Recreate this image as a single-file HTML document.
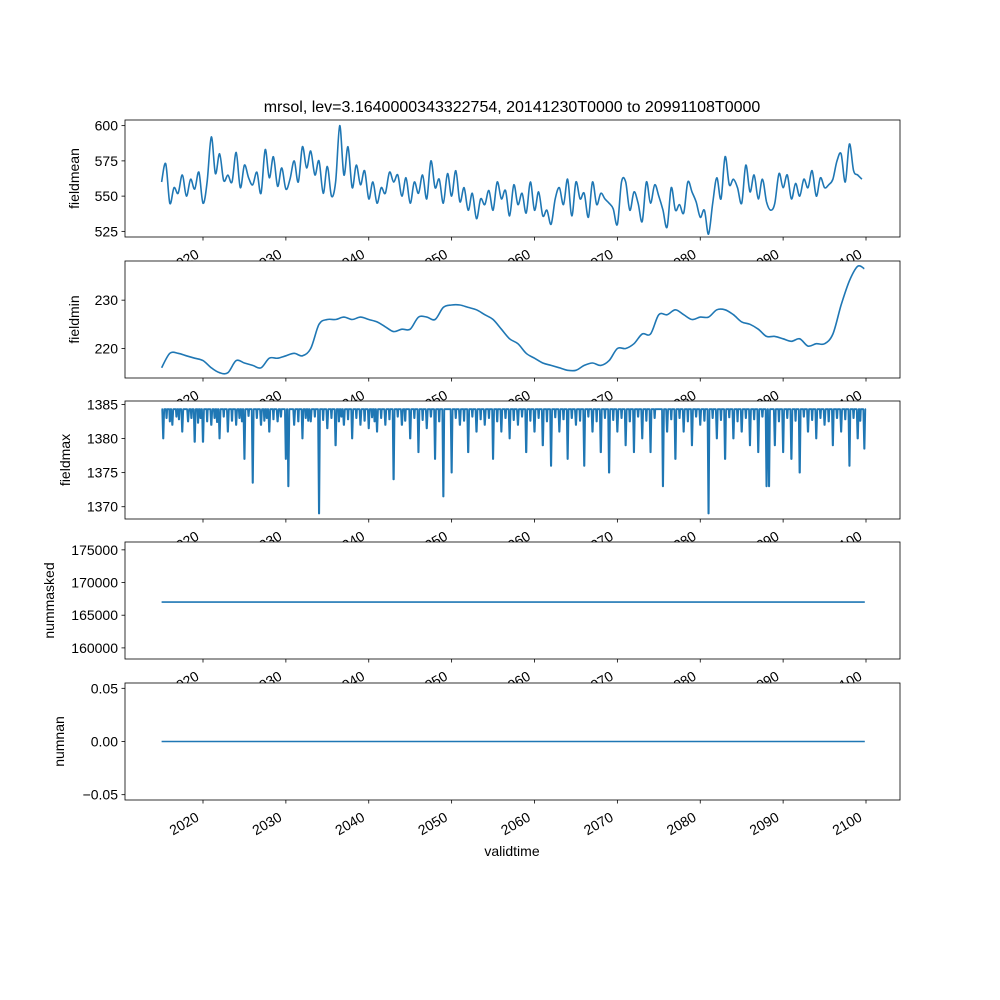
<!DOCTYPE html>
<html><head><meta charset="utf-8"><style>body{margin:0;background:#fff}svg{display:block;font-family:"Liberation Sans","DejaVu Sans",sans-serif}</style></head>
<body>
<svg id="fig" width="1000" height="1000" viewBox="0 0 1000 1000" xmlns="http://www.w3.org/2000/svg">
<rect width="1000" height="1000" fill="#fff"/>
<text x="512" y="112" font-size="16" text-anchor="middle">mrsol, lev=3.1640000343322754, 20141230T0000 to 20991108T0000</text>
<g id="root"></g>
<text x="512" y="856" font-size="14" text-anchor="middle">validtime</text>
</svg>
<script>
const xTicks=[2020,2030,2040,2050,2060,2070,2080,2090,2100];
const meanVals=[560,573,545,556,552,565,550,562,555,567,545,560,592,566,580,561,565,560,581,556,572,563,558,567,552,583,563,578,557,570,555,562,575,560,585,570,582,565,575,552,571,550,560,600,565,585,556,572,558,568,548,560,545,556,552,567,560,565,550,563,545,560,552,565,548,575,556,562,545,566,550,568,546,556,540,552,534,548,544,554,540,560,548,554,536,558,544,552,538,560,540,553,536,540,530,548,556,544,562,536,560,548,552,535,560,544,552,548,545,541,530,560,560,540,553,545,532,560,545,558,550,540,528,556,540,544,538,560,553,546,535,540,523,545,563,548,578,558,562,556,545,572,553,565,548,562,546,540,545,566,556,565,548,559,550,562,556,568,550,563,556,558,562,575,580,560,587,568,565,562];
const minYears=[2015,2016,2017,2018,2019,2020,2021,2022,2023,2024,2025,2026,2027,2028,2029,2030,2031,2032,2033,2034,2035,2036,2037,2038,2039,2040,2041,2042,2043,2044,2045,2046,2047,2048,2049,2050,2051,2052,2053,2054,2055,2056,2057,2058,2059,2060,2061,2062,2063,2064,2065,2066,2067,2068,2069,2070,2071,2072,2073,2074,2075,2076,2077,2078,2079,2080,2081,2082,2083,2084,2085,2086,2087,2088,2089,2090,2091,2092,2093,2094,2095,2096,2097,2098,2099,2099.8];
const minVals=[216,219,219,218.5,218,217.5,216,215,215,217.5,217,216.5,216,218,218,218.5,219,218.5,220,225,226,226,226.5,226,226.5,226,225.5,224.5,223.5,224,224,226.5,226.5,226,228.5,229,229,228.5,228,227,226,224,222,221,219,218,217,216.5,216,215.5,215.5,216.5,217,216.5,217.5,220,220,221,223,223,227,227,228,227,226,226.5,226.5,228,228,227,225.5,225,224,222.5,222.5,222,221.5,222,220.5,221,221,223,229,234,237,236.5];
const spikeYears=[2015.2,2016.3,2017.5,2018.2,2019,2020,2021,2022,2023,2024,2025,2026,2027,2028,2029,2030,2030.3,2031,2032,2033,2034,2035,2036,2037,2038,2039,2040,2041,2042,2043,2044,2045,2046,2047,2048,2049,2050,2051,2052,2053,2054,2055,2056,2057,2058,2059,2060,2061,2062,2063,2064,2065,2066,2067,2068,2069,2070,2071,2072,2073,2074,2075.5,2076,2077,2078,2079,2080,2081,2082,2083,2084,2085,2086,2087,2088,2088.3,2089,2090,2091,2092,2093,2094,2095,2096,2097,2098,2099,2099.8];
const spikeVals=[1380,1382,1381,1382.5,1379.5,1379.5,1382,1380,1381,1382,1377,1373.5,1382,1381,1382.5,1377,1373,1382,1380,1382.5,1369,1381.5,1379,1382,1380,1382,1381.5,1381,1382,1374,1382,1380,1378,1381.5,1377,1371.5,1375,1382,1378,1381,1382,1377,1381,1380,1382,1378,1381,1379,1376,1381,1377,1382,1376,1381,1378,1375,1381,1379,1378,1380,1378,1373,1381,1377,1381,1379,1382,1369,1380,1377,1380,1381,1379,1378,1373,1373,1379,1378,1377,1375,1381,1380,1382,1379,1381,1376,1380,1378.5];
const smallYears=[2015.6,2016.0,2016.8,2017.1,2018.6,2019.4,2019.7,2020.5,2021.4,2021.7,2022.5,2023.5,2024.4,2024.7,2025.5,2026.5,2027.4,2027.7,2028.5,2029.4,2031.5,2032.4,2032.7,2033.5,2034.5,2035.5,2036.4,2036.7,2037.5,2038.5,2039.5,2040.4,2040.7,2041.5,2042.5,2043.5,2044.4,2045.5,2046.5,2047.5,2048.5,2050.5,2051.5,2052.5,2053.5,2054.5,2055.5,2056.5,2057.5,2058.5,2059.5,2060.5,2061.5,2062.5,2063.5,2064.5,2065.5,2066.5,2067.5,2068.5,2069.5,2070.5,2071.5,2072.5,2073.5,2074.5,2076.5,2077.5,2078.5,2079.5,2080.5,2081.5,2082.5,2083.5,2084.5,2085.5,2086.5,2087.5,2089.5,2090.5,2091.5,2092.5,2093.5,2094.5,2095.5,2096.5,2097.5,2098.5,2099.3];
const smallVals=[1383,1382.5,1383.2,1382.8,1383,1382.3,1383,1382.5,1383,1382.4,1383.2,1382.6,1383,1382.5,1383.3,1383,1382.6,1383,1382.8,1383.2,1382.5,1383,1382.6,1383.2,1382.7,1383,1382.5,1383.2,1382.8,1383,1382.6,1383.1,1382.5,1383,1382.8,1383.2,1382.6,1383,1382.7,1383.2,1382.5,1383,1382.6,1383.2,1382.8,1383,1382.5,1383,1382.7,1383.2,1382.6,1383,1382.5,1383.1,1382.8,1383,1382.6,1383.2,1382.5,1383,1382.7,1383,1382.5,1383.2,1382.6,1383,1382.8,1383,1382.5,1383.2,1382.6,1383,1382.7,1383.1,1382.5,1383,1382.8,1383.2,1382.5,1383,1382.6,1383.2,1382.7,1383,1382.5,1383,1382.8,1383,1382.6];
const maskedVal=167000;
const nanVal=0;
const panels=[
 {name:'fieldmean',top:120,bot:237,ymin:521,ymax:604,ticks:[525,550,575,600],labels:['525','550','575','600']},
 {name:'fieldmin',top:261,bot:378,ymin:213.9,ymax:238.1,ticks:[220,230],labels:['220','230']},
 {name:'fieldmax',top:401,bot:519,ymin:1368.2,ymax:1385.5,ticks:[1370,1375,1380,1385],labels:['1370','1375','1380','1385']},
 {name:'nummasked',top:542,bot:659,ymin:158300,ymax:176200,ticks:[160000,165000,170000,175000],labels:['160000','165000','170000','175000']},
 {name:'numnan',top:683,bot:800,ymin:-0.055,ymax:0.055,ticks:[-0.05,0,0.05],labels:['−0.05','0.00','0.05']}];
const NS='http://www.w3.org/2000/svg';
const root=document.getElementById('root');
const L=125,R=900;
function xs(y){return 203+(y-2020)*(866-203)/80;}
function mk(t,a,p){const e=document.createElementNS(NS,t);for(const k in a)e.setAttribute(k,a[k]);(p||root).appendChild(e);return e;}
function series(i){
 if(i===0)return meanVals.map((v,j)=>[2015+j*0.5,v]);
 if(i===1)return minYears.map((y,j)=>[y,minVals[j]]);
 if(i===2){const sp=spikeYears.map((y,j)=>[y,spikeVals[j],0.12]).concat(smallYears.map((y,j)=>[y,smallVals[j],0.08])).sort((a,b)=>a[0]-b[0]);
  const pts=[[2015,1384.3]];sp.forEach(s=>{pts.push([s[0]-s[2],1384.3]);pts.push([s[0]-0.02,s[1]]);pts.push([s[0]+0.02,s[1]]);pts.push([s[0]+s[2],1384.3]);});pts.push([2099.85,1384.3]);return pts;}
 if(i===3)return [[2015,maskedVal],[2099.85,maskedVal]];
 return [[2015,nanVal],[2099.85,nanVal]];
}
function smoothPath(P){let d='M'+P[0][0].toFixed(1)+' '+P[0][1].toFixed(1);
 for(let i=0;i<P.length-1;i++){const p0=P[Math.max(0,i-1)],p1=P[i],p2=P[i+1],p3=P[Math.min(P.length-1,i+2)];
  const c1=[p1[0]+(p2[0]-p0[0])/6,p1[1]+(p2[1]-p0[1])/6],c2=[p2[0]-(p3[0]-p1[0])/6,p2[1]-(p3[1]-p1[1])/6];
  d+='C'+c1[0].toFixed(1)+' '+c1[1].toFixed(1)+' '+c2[0].toFixed(1)+' '+c2[1].toFixed(1)+' '+p2[0].toFixed(1)+' '+p2[1].toFixed(1);}
 return d;}
panels.forEach((p,i)=>{
 const g=mk('g',{});
 
 
 mk('rect',{x:L,y:p.top,width:R-L,height:p.bot-p.top,fill:'#fff'},g);
 const ys=v=>p.bot-(v-p.ymin)/(p.ymax-p.ymin)*(p.bot-p.top);
 const P=series(i).map(q=>[xs(q[0]),ys(q[1])]);
 const d=(i<2)?smoothPath(P):P.map((q,j)=>(j?'L':'M')+q[0].toFixed(1)+' '+q[1].toFixed(1)).join('');
 const ln=mk('path',{d:d,fill:'none',stroke:'#1f77b4','stroke-width':i===2?1.8:1.6,'stroke-linejoin':'round'},g);
 
 
 mk('rect',{x:L,y:p.top,width:R-L,height:p.bot-p.top,fill:'none',stroke:'#000','stroke-width':0.8},g);
 p.ticks.forEach((t,k)=>{const y=ys(t);mk('line',{x1:L-3.5,x2:L,y1:y,y2:y,stroke:'#000','stroke-width':0.8},g);
  const tx=mk('text',{x:L-7,y:y+5,'font-size':14,'text-anchor':'end'},g);tx.textContent=p.labels[k];
  
  });
 const yl=mk('text',{x:0,y:0,'font-size':14,'text-anchor':'middle',transform:'translate('+(i===2?70:i===3?54:i===4?64:79)+','+((p.top+p.bot)/2)+') rotate(-90)'},g);
 yl.textContent=p.name;
 
 
 xTicks.forEach(t=>{const x=xs(t);mk('line',{x1:x,x2:x,y1:p.bot,y2:p.bot+3.5,stroke:'#000','stroke-width':0.8},g);
  const tx=mk('text',{x:0,y:0,'font-size':14,'text-anchor':'end',transform:'translate('+(x-3)+','+(p.bot+20)+') rotate(-30)'},g);tx.textContent=t;
  
  });
});
</script>
</body></html>
